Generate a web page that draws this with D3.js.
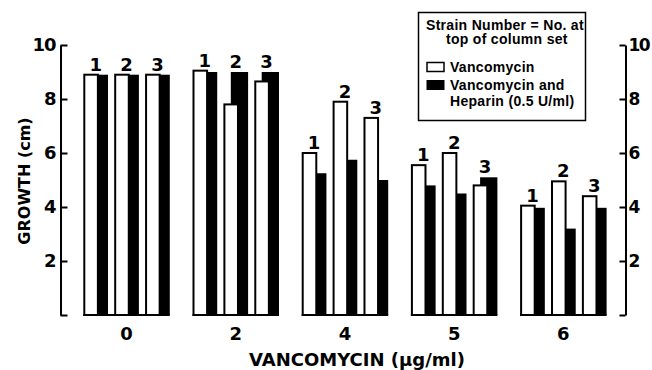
<!DOCTYPE html>
<html>
<head>
<meta charset="utf-8">
<script src="https://cdn.jsdelivr.net/npm/d3@7"></script>
<style>
    body { margin: 0; background: #fff; }
    text { fill: #000; }
</style>
</head>
<body>
<div id="chart"></div>
<script>
// vancomycin dose groups and strain numbers
var doses = ["0", "2", "4", "5", "6"];
var strains = ["1", "2", "3"];
// growth (cm), one row per dose, one value per strain
var vanco = [
    [8.9, 8.9, 8.9],
    [9.05, 7.8, 8.65],
    [6.0, 7.9, 7.3],
    [5.55, 6.0, 4.8],
    [4.05, 4.95, 4.4]
];
var vancoHeparin = [
    [8.9, 8.9, 8.9],
    [9.0, 9.0, 9.0],
    [5.25, 5.75, 5.0],
    [4.8, 4.5, 5.1],
    [3.97, 3.2, 3.97]
];
var yTicks = [0, 2, 4, 6, 8, 10];
var legendLines = ["Strain Number = No. at", "top of column set"];
var seriesNames = ["Vancomycin", "Vancomycin and", "Heparin (0.5 U/ml)"];

var width = 652, height = 370;
var bold = "'DejaVu Sans', sans-serif";

var svg = d3.select("#chart").append("svg")
    .attr("width", width)
    .attr("height", height)
    .style("display", "block");

var y = d3.scaleLinear().domain([0, 10]).range([315, 45]);

var xg = d3.scaleBand()
    .domain(doses)
    .range([83.3, 606.6])
    .paddingInner(0.208)
    .paddingOuter(0);

var xs = d3.scaleBand()
    .domain(strains)
    .range([0, xg.bandwidth()])
    .paddingInner(0.2);

var pw = xs.bandwidth();

// axes
function styleAxis(g, size, spacing) {
    g.select(".domain").attr("stroke", "#000").attr("stroke-width", 2);
    g.selectAll(".tick line").attr("stroke", "#000").attr("stroke-width", 2);
    g.selectAll(".tick text")
        .style("font-family", bold)
        .style("font-weight", "bold")
        .style("font-size", size)
        .style("letter-spacing", spacing)
        .attr("fill", "#000");
}

var fmt = function (d) { return d === 0 ? "" : d; };

svg.append("g")
    .attr("transform", "translate(60.5,0)")
    .call(d3.axisLeft(y).tickValues(yTicks).tickFormat(fmt)
        .tickSizeInner(-7).tickSizeOuter(0).tickPadding(5))
    .call(styleAxis, "18px", "-1px");

svg.append("g")
    .attr("transform", "translate(625.5,0)")
    .call(d3.axisRight(y).tickValues(yTicks).tickFormat(fmt)
        .tickSizeInner(-6).tickSizeOuter(0).tickPadding(3))
    .call(styleAxis, "17px", "-1.5px");

// bar groups
var groups = svg.selectAll(".grp")
    .data(doses)
    .enter().append("g")
    .attr("class", "grp")
    .attr("transform", function (d) { return "translate(" + xg(d) + ",0)"; });

groups.each(function (dose, gi) {
    var g = d3.select(this);
    strains.forEach(function (s, si) {
        var x0 = xs(s);
        var w = vanco[gi][si], b = vancoHeparin[gi][si];
        g.append("rect")
            .attr("x", x0 + pw * 0.3)
            .attr("y", y(b))
            .attr("width", pw * 0.7)
            .attr("height", y(0) - y(b))
            .attr("fill", "#000");
        g.append("rect")
            .attr("x", x0 + 1)
            .attr("y", y(w))
            .attr("width", pw * 0.59 - 1)
            .attr("height", y(0) - y(w))
            .attr("fill", "#fff")
            .attr("stroke", "#000")
            .attr("stroke-width", 2);
        g.append("text")
            .attr("x", x0 + pw / 2)
            .attr("y", y(Math.max(w, b)) - 4)
            .attr("text-anchor", "middle")
            .style("font-family", bold)
            .style("font-weight", "bold")
            .style("font-size", "18px")
            .text(s);
    });
    g.append("line")
        .attr("x1", 0)
        .attr("x2", xg.bandwidth())
        .attr("y1", y(0))
        .attr("y2", y(0))
        .attr("stroke", "#000")
        .attr("stroke-width", 2);
    g.append("text")
        .attr("x", xg.bandwidth() / 2)
        .attr("y", 340)
        .attr("text-anchor", "middle")
        .style("font-family", bold)
        .style("font-weight", "bold")
        .style("font-size", "18px")
        .text(dose);
});

// axis titles
svg.append("text")
    .attr("transform", "translate(30,181) rotate(-90)")
    .attr("text-anchor", "middle")
    .style("font-family", bold)
    .style("font-weight", "bold")
    .style("font-size", "16px")
    .text("GROWTH (cm)");

svg.append("text")
    .attr("x", 357)
    .attr("y", 366)
    .attr("text-anchor", "middle")
    .style("font-family", bold)
    .style("font-weight", "bold")
    .style("font-size", "18px")
    .text("VANCOMYCIN (μg/ml)");

// legend
var lg = svg.append("g").attr("class", "legend");
lg.append("rect")
    .attr("x", 418.5).attr("y", 12.5)
    .attr("width", 167).attr("height", 108)
    .attr("fill", "#fff")
    .attr("stroke", "#000")
    .attr("stroke-width", 1.5);

var legFont = "'Liberation Sans', Arial, sans-serif";
function legText(x, yy, t) {
    lg.append("text")
        .attr("x", x).attr("y", yy)
        .style("font-family", legFont)
        .style("font-weight", "bold")
        .style("font-size", "14px")
        .style("letter-spacing", "0.3px")
        .text(t);
}
legText(426, 29.5, legendLines[0]);
legText(446, 44, legendLines[1]);

lg.append("rect")
    .attr("x", 427).attr("y", 62.5).attr("width", 17).attr("height", 9)
    .attr("fill", "#fff").attr("stroke", "#000").attr("stroke-width", 1.5);
legText(450, 72, seriesNames[0]);

lg.append("rect")
    .attr("x", 426.5).attr("y", 80).attr("width", 18).attr("height", 10)
    .attr("fill", "#000");
legText(450, 90, seriesNames[1]);
legText(450, 106, seriesNames[2]);
</script>
</body>
</html>
